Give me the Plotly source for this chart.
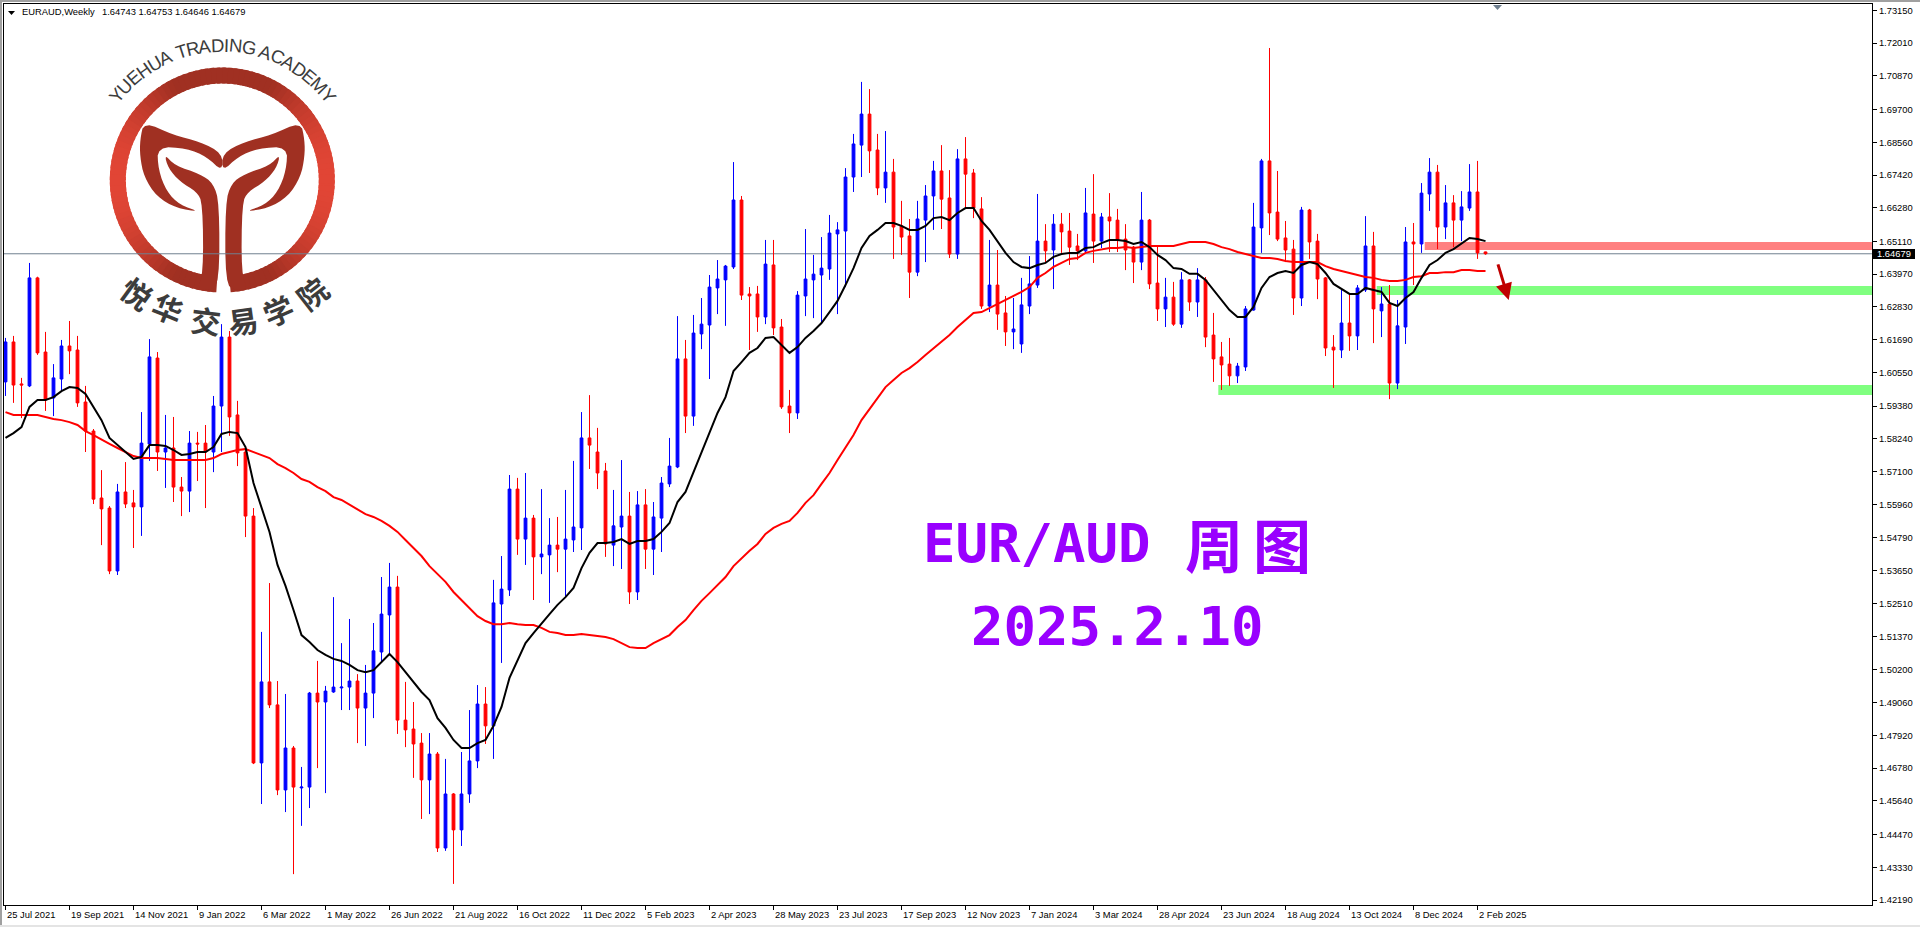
import math
import plotly.graph_objects as go

# Weekly EURAUD, one entry per bar
opens = [1.6022,1.6161,1.6015,1.6008,1.6384,1.6126,1.5966,1.6032,1.6147,1.6133,1.5952,1.5851,1.5618,1.5583,1.5364,1.5639,1.5601,1.5587,1.5806,1.6105,
1.5778,1.5792,1.5656,1.5642,1.5809,1.5809,1.5778,1.5938,1.6178,1.5907,1.5778,1.5555,1.4696,1.4978,1.4898,1.4602,1.4748,1.4609,1.4612,1.4939,
1.4908,1.4943,1.4957,1.4960,1.4981,1.4887,1.4939,1.5082,1.5211,1.5308,1.4845,1.4814,1.4765,1.4637,1.4727,1.4400,1.4588,1.4463,1.4588,1.4703,
1.4901,1.4825,1.5249,1.5298,1.5649,1.5475,1.5548,1.5413,1.5420,1.5454,1.5440,1.5472,1.5514,1.5827,1.5778,1.5712,1.5454,1.5517,1.5555,1.5291,
1.5594,1.5440,1.5548,1.5667,1.5726,1.6102,1.5903,1.6189,1.6220,1.6349,1.6377,1.6422,1.6655,1.6328,1.6328,1.6248,1.6429,1.6213,1.5938,1.5914,
1.6321,1.6377,1.6394,1.6415,1.6537,1.6547,1.6735,1.6846,1.6954,1.6829,1.6697,1.6752,1.6565,1.6530,1.6404,1.6585,1.6669,1.6756,1.6662,1.6467,
1.6798,1.6749,1.6624,1.6286,1.6359,1.6262,1.6196,1.6154,1.6286,1.6359,1.6512,1.6481,1.6571,1.6547,1.6495,1.6478,1.6606,1.6512,1.6596,1.6585,
1.6519,1.6491,1.6439,1.6585,1.6366,1.6276,1.6317,1.6223,1.6377,1.6300,1.6377,1.6185,1.6109,1.6084,1.6043,1.6074,1.6272,1.6558,1.6791,1.6613,
1.6523,1.6484,1.6314,1.6620,1.6512,1.6384,1.6143,1.6133,1.6227,1.6182,1.6342,1.6495,1.6269,1.6293,1.6018,1.6213,1.6509,1.6502,1.6676,1.6752,
1.6561,1.6645,1.6585,1.6627,1.6683,1.64743]
highs = [1.6175,1.6182,1.6036,1.6436,1.6388,1.6196,1.6084,1.6168,1.6234,1.6182,1.6008,1.5858,1.5715,1.5590,1.5667,1.5743,1.5646,1.5917,1.6171,1.6126,
1.5907,1.5900,1.5691,1.5851,1.5848,1.5872,1.5973,1.6223,1.6199,1.5956,1.5795,1.5583,1.5152,1.5322,1.4981,1.4936,1.4755,1.4682,1.4943,1.5051,
1.4964,1.5273,1.5113,1.5197,1.5005,1.5037,1.5183,1.5343,1.5392,1.5347,1.4978,1.4908,1.4800,1.4800,1.4734,1.4710,1.4591,1.4734,1.4880,1.4967,
1.4960,1.5333,1.5416,1.5698,1.5688,1.5705,1.5559,1.5649,1.5548,1.5552,1.5646,1.5747,1.5917,1.5976,1.5862,1.5740,1.5646,1.5750,1.5639,1.5642,
1.5649,1.5604,1.5691,1.5827,1.6251,1.6168,1.6255,1.6314,1.6394,1.6446,1.6429,1.6787,1.6669,1.6352,1.6356,1.6516,1.6516,1.6241,1.5994,1.6338,
1.6554,1.6464,1.6526,1.6603,1.6578,1.6766,1.6885,1.7066,1.7041,1.6885,1.6895,1.6798,1.6652,1.6589,1.6652,1.6707,1.6791,1.6846,1.6759,1.6832,
1.6874,1.6763,1.6665,1.6516,1.6481,1.6321,1.6314,1.6384,1.6460,1.6676,1.6571,1.6606,1.6610,1.6610,1.6537,1.6697,1.6745,1.6610,1.6679,1.6624,
1.6571,1.6495,1.6683,1.6589,1.6495,1.6384,1.6370,1.6404,1.6380,1.6418,1.6387,1.6262,1.6161,1.6175,1.6088,1.6286,1.6645,1.6798,1.7184,1.6756,
1.6582,1.6516,1.6631,1.6624,1.6537,1.6387,1.6185,1.6342,1.6328,1.6359,1.6599,1.6544,1.6352,1.6359,1.6307,1.6561,1.6575,1.6714,1.6801,1.6777,
1.6707,1.6672,1.6686,1.6780,1.6791,1.64753]
lows = [1.5973,1.5949,1.5896,1.6004,1.6116,1.5921,1.5903,1.5990,1.6049,1.5935,1.5778,1.5597,1.5454,1.5353,1.5350,1.5583,1.5444,1.5486,1.5747,1.5712,
1.5653,1.5604,1.5555,1.5569,1.5677,1.5583,1.5708,1.5778,1.5834,1.5729,1.5482,1.4692,1.4553,1.4887,1.4584,1.4525,1.4309,1.4477,1.4539,1.4678,
1.4591,1.4940,1.4880,1.4880,1.4765,1.4755,1.4852,1.5047,1.5075,1.4797,1.4751,1.4644,1.4501,1.4518,1.4386,1.4390,1.4275,1.4407,1.4557,1.4678,
1.4762,1.4710,1.5044,1.5277,1.5420,1.5385,1.5263,1.5353,1.5253,1.5360,1.5273,1.5430,1.5437,1.5719,1.5649,1.5413,1.5381,1.5371,1.5249,1.5263,
1.5371,1.5350,1.5430,1.5656,1.5722,1.5844,1.5869,1.6136,1.6032,1.6258,1.6217,1.6415,1.6307,1.6133,1.6196,1.6223,1.6185,1.5928,1.5844,1.5893,
1.6251,1.6244,1.6227,1.6377,1.6258,1.6352,1.6683,1.6735,1.6749,1.6672,1.6645,1.6450,1.6464,1.6314,1.6390,1.6439,1.6551,1.6554,1.6453,1.6450,
1.6627,1.6592,1.6276,1.6265,1.6203,1.6147,1.6136,1.6123,1.6258,1.6349,1.6436,1.6345,1.6471,1.6429,1.6446,1.6471,1.6436,1.6488,1.6474,1.6474,
1.6411,1.6366,1.6411,1.6345,1.6234,1.6213,1.6217,1.6210,1.6269,1.6248,1.6143,1.6022,1.5994,1.6008,1.6018,1.6060,1.6270,1.6471,1.6533,1.6512,
1.6439,1.6255,1.6286,1.6450,1.6310,1.6112,1.6001,1.6105,1.6130,1.6133,1.6335,1.6157,1.6178,1.5962,1.5997,1.6154,1.6359,1.6471,1.6617,1.6484,
1.6519,1.6491,1.6512,1.6617,1.6450,1.64646]
closes = [1.6161,1.6011,1.6011,1.6384,1.6123,1.5959,1.6036,1.6147,1.6130,1.5949,1.5851,1.5614,1.5580,1.5364,1.5639,1.5597,1.5587,1.5809,1.6109,1.5778,
1.5792,1.5656,1.5642,1.5809,1.5806,1.5778,1.5938,1.6178,1.5900,1.5775,1.5555,1.4696,1.4978,1.4898,1.4602,1.4748,1.4612,1.4612,1.4939,1.4908,
1.4946,1.4960,1.4960,1.4981,1.4887,1.4939,1.5086,1.5214,1.5308,1.4845,1.4811,1.4762,1.4637,1.4727,1.4400,1.4588,1.4463,1.4588,1.4703,1.4901,
1.4825,1.5253,1.5301,1.5649,1.5475,1.5548,1.5413,1.5423,1.5454,1.5440,1.5475,1.5517,1.5827,1.5802,1.5705,1.5458,1.5521,1.5555,1.5291,1.5594,
1.5440,1.5552,1.5670,1.5729,1.6102,1.5903,1.6192,1.6223,1.6352,1.6380,1.6425,1.6655,1.6324,1.6321,1.6248,1.6432,1.6210,1.5935,1.5914,1.6324,
1.6380,1.6397,1.6418,1.6540,1.6551,1.6735,1.6850,1.6954,1.6826,1.6697,1.6752,1.6561,1.6526,1.6404,1.6589,1.6669,1.6756,1.6658,1.6467,1.6798,
1.6745,1.6627,1.6286,1.6359,1.6258,1.6196,1.6206,1.6290,1.6363,1.6512,1.6478,1.6571,1.6544,1.6491,1.6478,1.6610,1.6512,1.6596,1.6582,1.6516,
1.6481,1.6439,1.6585,1.6363,1.6276,1.6317,1.6223,1.6377,1.6300,1.6377,1.6178,1.6102,1.6081,1.6043,1.6077,1.6276,1.6561,1.6791,1.6610,1.6519,
1.6481,1.6314,1.6620,1.6509,1.6380,1.6140,1.6133,1.6227,1.6182,1.6349,1.6495,1.6276,1.6293,1.6018,1.6217,1.6509,1.6502,1.6679,1.6752,1.6561,
1.6645,1.6585,1.6631,1.6683,1.6471,1.64679]

ma_fast = [1.5827,1.5844,1.5865,1.5935,1.5959,1.5959,1.5969,1.5990,1.6004,1.6001,1.5980,1.5935,1.5889,1.5827,1.5802,1.5778,1.5754,1.5761,1.5802,1.5802,
1.5799,1.5785,1.5768,1.5771,1.5778,1.5778,1.5795,1.5841,1.5848,1.5844,1.5795,1.5670,1.5583,1.5500,1.5385,1.5312,1.5228,1.5141,1.5117,1.5089,
1.5072,1.5058,1.5051,1.5037,1.5019,1.5012,1.5019,1.5047,1.5075,1.5047,1.5012,1.4981,1.4943,1.4915,1.4852,1.4818,1.4776,1.4748,1.4748,1.4765,
1.4776,1.4825,1.4891,1.4992,1.5054,1.5113,1.5148,1.5183,1.5214,1.5246,1.5273,1.5305,1.5374,1.5427,1.5461,1.5461,1.5465,1.5475,1.5458,1.5468,
1.5468,1.5475,1.5500,1.5531,1.5604,1.5639,1.5708,1.5775,1.5848,1.5914,1.5969,1.6060,1.6091,1.6123,1.6140,1.6175,1.6178,1.6150,1.6123,1.6143,
1.6175,1.6199,1.6227,1.6265,1.6304,1.6359,1.6418,1.6488,1.6530,1.6551,1.6575,1.6575,1.6565,1.6551,1.6551,1.6565,1.6592,1.6596,1.6585,1.6610,
1.6627,1.6627,1.6582,1.6551,1.6509,1.6471,1.6439,1.6422,1.6418,1.6429,1.6436,1.6457,1.6467,1.6471,1.6471,1.6488,1.6491,1.6505,1.6516,1.6516,
1.6512,1.6502,1.6509,1.6491,1.6464,1.6446,1.6418,1.6415,1.6398,1.6398,1.6377,1.6342,1.6307,1.6272,1.6248,1.6248,1.6283,1.6349,1.6387,1.6401,
1.6408,1.6401,1.6429,1.6439,1.6432,1.6401,1.6363,1.6345,1.6328,1.6328,1.6349,1.6342,1.6335,1.6297,1.6286,1.6314,1.6335,1.6384,1.6429,1.6446,
1.6471,1.6484,1.6505,1.6523,1.6519,1.6512]
ma_slow = [1.5917,1.5907,1.5907,1.5907,1.5907,1.5900,1.5893,1.5889,1.5882,1.5872,1.5851,1.5837,1.5820,1.5806,1.5792,1.5778,1.5764,1.5757,1.5757,1.5757,
1.5754,1.5750,1.5750,1.5750,1.5750,1.5750,1.5757,1.5771,1.5778,1.5785,1.5788,1.5778,1.5768,1.5757,1.5736,1.5722,1.5705,1.5684,1.5674,1.5656,
1.5642,1.5621,1.5611,1.5594,1.5576,1.5562,1.5552,1.5538,1.5521,1.5500,1.5472,1.5444,1.5416,1.5381,1.5353,1.5326,1.5291,1.5263,1.5235,1.5207,
1.5190,1.5179,1.5179,1.5183,1.5179,1.5176,1.5176,1.5166,1.5152,1.5148,1.5141,1.5141,1.5145,1.5141,1.5138,1.5134,1.5127,1.5113,1.5099,1.5096,
1.5096,1.5113,1.5127,1.5141,1.5169,1.5193,1.5228,1.5260,1.5287,1.5315,1.5343,1.5381,1.5409,1.5434,1.5458,1.5493,1.5514,1.5528,1.5538,1.5566,
1.5601,1.5628,1.5667,1.5705,1.5750,1.5792,1.5837,1.5889,1.5928,1.5966,1.6004,1.6029,1.6053,1.6070,1.6091,1.6116,1.6140,1.6161,1.6185,1.6213,
1.6237,1.6262,1.6265,1.6279,1.6293,1.6307,1.6321,1.6335,1.6352,1.6384,1.6401,1.6422,1.6436,1.6450,1.6453,1.6471,1.6478,1.6484,1.6488,1.6488,
1.6491,1.6488,1.6491,1.6495,1.6495,1.6495,1.6495,1.6502,1.6509,1.6509,1.6509,1.6502,1.6491,1.6484,1.6474,1.6467,1.6460,1.6453,1.6453,1.6450,
1.6443,1.6439,1.6439,1.6439,1.6439,1.6425,1.6415,1.6408,1.6401,1.6394,1.6387,1.6384,1.6377,1.6373,1.6373,1.6377,1.6387,1.6390,1.6401,1.6401,
1.6404,1.6404,1.6411,1.6411,1.6408,1.6408]

price_ticks = [1.73150,1.72010,1.70870,1.69700,1.68560,1.67420,1.66280,1.65110,1.63970,1.62830,1.61690,1.60550,1.59380,1.58240,
1.57100,1.55960,1.54790,1.53650,1.52510,1.51370,1.50200,1.49060,1.47920,1.46780,1.45640,1.44470,1.43330,1.42190]
date_labels = ["25 Jul 2021","19 Sep 2021","14 Nov 2021","9 Jan 2022","6 Mar 2022","1 May 2022","26 Jun 2022","21 Aug 2022",
"16 Oct 2022","11 Dec 2022","5 Feb 2023","2 Apr 2023","28 May 2023","23 Jul 2023","17 Sep 2023","12 Nov 2023",
"7 Jan 2024","3 Mar 2024","28 Apr 2024","23 Jun 2024","18 Aug 2024","13 Oct 2024","8 Dec 2024","2 Feb 2025"]
last_price = 1.64679

# support / resistance zones: start bar, top price, bottom price
red_zone = (177.4, 1.6509, 1.6481)
green_zone_mid = (171.4, 1.6356, 1.6324)
green_zone_low = (151.6, 1.6011, 1.5976)

bars = list(range(len(closes)))
date_bars = [b * 8 for b in range(len(date_labels))]

# pixel box of the plot inside the 1920x927 page
L, T, R, B = 4, 4, 1872, 905
SMALL_FONT = "Liberation Sans"
SMALL_SIZE = 9.4


def px(x):
    return (x - L) / (R - L)


def py(y):
    return 1 - (y - T) / (B - T)


fig = go.Figure()
fig.add_trace(go.Candlestick(
    x=bars, open=opens, high=highs, low=lows, close=closes,
    increasing=dict(line=dict(color="#0000ff", width=1), fillcolor="#0000ff"),
    decreasing=dict(line=dict(color="#ff0000", width=1), fillcolor="#ff0000"),
    whiskerwidth=0, hoverinfo="skip", showlegend=False,
))
fig.add_trace(go.Scatter(x=bars, y=ma_slow, mode="lines", line=dict(color="#ff0000", width=2), hoverinfo="skip", showlegend=False))
fig.add_trace(go.Scatter(x=bars, y=ma_fast, mode="lines", line=dict(color="#000000", width=2), hoverinfo="skip", showlegend=False))

shapes = []
annotations = []


def paper_shape(path, fill=None, line=None, width=0, layer="below"):
    shapes.append(dict(type="path", path=path, xref="paper", yref="paper", layer=layer,
                       fillcolor=fill or "rgba(0,0,0,0)",
                       line=dict(color=line or "rgba(0,0,0,0)", width=width)))


def poly(points):
    return "M" + " L".join(f"{px(a):.5f},{py(b):.5f}" for a, b in points) + " Z"


def rect(x0, y0, x1, y1, fill, layer="below"):
    paper_shape(poly([(x0, y0), (x1, y0), (x1, y1), (x0, y1)]), fill=fill, layer=layer)


def rounded(points, rounds=2):
    # corner cutting so the logo outlines read as curves
    for _ in range(rounds):
        out = []
        for n, (a, b) in enumerate(points):
            c, d = points[(n + 1) % len(points)]
            out.append((0.75 * a + 0.25 * c, 0.75 * b + 0.25 * d))
            out.append((0.25 * a + 0.75 * c, 0.25 * b + 0.75 * d))
        points = out
    return points


# window frame
rect(0, 0, 1920, 2, "#a0a0a0", "above")
rect(0, 0, 2, 927, "#a0a0a0", "above")
rect(0, 925, 1920, 927, "#e4e4e4", "above")

# last price line, under the logo
shapes.append(dict(type="line", xref="x", yref="y", x0=-0.2, x1=233.3, y0=last_price, y1=last_price,
                   layer="below", line=dict(color="#708090", width=1)))

# zones
for (start, top, bottom), col in [(red_zone, "#ff8080"), (green_zone_mid, "#80ff80"), (green_zone_low, "#80ff80")]:
    shapes.append(dict(type="rect", xref="x", yref="y", x0=start, x1=233.3, y0=bottom, y1=top,
                       layer="below", fillcolor=col, line=dict(width=0)))

# logo: ring with a left/right brightening, drawn as short overlapping arcs
cx, cy, ring_r = 222.3, 180, 104.5
steps = 120
for k in range(steps):
    a0 = 2 * math.pi * k / steps
    a1 = 2 * math.pi * (k + 1.6) / steps
    mid = a0 + math.pi / steps
    # leave the slit at the bottom of the ring open
    if a0 < math.pi / 2 + 0.03 and a1 > math.pi / 2 - 0.03:
        continue
    t = max(0, (abs(math.cos(mid)) - 0.45) / 0.55)
    col = f"rgb({int(160 + 66 * t)},{int(48 + 22 * t)},{int(34 + 20 * t)})"
    pts = [(cx + ring_r * math.cos(a0 + (a1 - a0) * j / 3), cy + ring_r * math.sin(a0 + (a1 - a0) * j / 3)) for j in range(4)]
    paper_shape("M" + " L".join(f"{px(a):.5f},{py(b):.5f}" for a, b in pts), line=col, width=16)

leaf = [(432,365),(520,405),(600,425),(667,460),(667,515),(620,470),(560,445),(472,440),(475,510),(500,575),(540,615),(600,635),
        (530,625),(470,590),(432,530),(420,470),(420,420)]
stem = [(493,462),(525,497),(600,522),(640,550),(658,610),(658,850),(628,872),(590,866),(610,822),(608,610),(590,575),(540,545),(505,505)]
for shape_pts in (leaf, stem):
    smooth = rounded(shape_pts, 2)
    paper_shape(poly([(a / 3, b / 3) for a, b in smooth]), fill="#a03022")
    paper_shape(poly([((1334 - a) / 3, b / 3) for a, b in smooth]), fill="#a03022")

# logo lettering along the arcs
ring_text = "YUEHUA TRADING ACADEMY"
widths = dict(Y=.667, U=.722, E=.667, H=.722, A=.667, T=.611, R=.722, D=.722, I=.278, N=.722, G=.778, C=.722, M=.833)
widths[" "] = .278
total = sum(widths[c] for c in ring_text)
arc_deg = 108.0
run = 0.0
for c in ring_text:
    w = widths[c]
    ang = -arc_deg / 2 + arc_deg * (run + w / 2) / total
    run += w
    rad = math.radians(ang)
    annotations.append(dict(text=c, xref="paper", yref="paper", x=px(cx + 135 * math.sin(rad)), y=py(cy - 135 * math.cos(rad)),
                            showarrow=False, textangle=ang, xanchor="center", yanchor="middle",
                            font=dict(family="Liberation Sans", size=18.5, color="#3c3c3c")))

cjk_chars = ["悦", "华", "交", "易", "学", "院"]
cjk_pos = [(412, 880), (505, 925), (617, 960), (730, 960), (833, 930), (935, 880)]
cjk_ang = [36, 22, 7, -8, -23, -38]
for c, (a, b), ang in zip(cjk_chars, cjk_pos, cjk_ang):
    annotations.append(dict(text=c, xref="paper", yref="paper", x=px(a / 3), y=py(b / 3), showarrow=False, textangle=ang,
                            xanchor="center", yanchor="middle",
                            font=dict(family="Noto Sans CJK SC", size=30, color="#3c3c3c", weight=700)))

# header
paper_shape(poly([(8, 11), (15, 11), (11.5, 15)]), fill="#000000", layer="above")
annotations.append(dict(text="EURAUD,Weekly", xref="paper", yref="paper", x=px(20), y=py(12), showarrow=False,
                        xanchor="left", yanchor="middle", font=dict(family=SMALL_FONT, size=SMALL_SIZE, color="#000000")))
annotations.append(dict(text="1.64743 1.64753 1.64646 1.64679", xref="paper", yref="paper", x=px(100), y=py(12), showarrow=False,
                        xanchor="left", yanchor="middle", font=dict(family=SMALL_FONT, size=SMALL_SIZE, color="#000000")))
paper_shape(poly([(1493, 5), (1502, 5), (1497.5, 10)]), fill="#708090", layer="above")

# date labels start at their tick
for b, label in zip(date_bars, date_labels):
    annotations.append(dict(text=label, xref="x", y=py(914.5), yref="paper", x=b, xshift=-1, showarrow=False,
                            xanchor="left", yanchor="middle",
                            font=dict(family=SMALL_FONT, size=SMALL_SIZE, color="#000000")))

# current price box
rect(1873, 249, 1915, 259, "#000000", "above")
annotations.append(dict(text="1.64679", xref="paper", yref="y", x=px(1894), y=last_price, showarrow=False,
                        xanchor="center", yanchor="middle",
                        font=dict(family=SMALL_FONT, size=SMALL_SIZE, color="#ffffff")))

# arrow
annotations.append(dict(x=187.9, y=1.6307, ax=186.5, ay=1.6436, xref="x", yref="y", axref="x", ayref="y", text="", showarrow=True,
                        arrowhead=2, arrowsize=1.1, arrowwidth=3, arrowcolor="#c00000", standoff=0))

# big labels
purple = "#9900ff"
mono = dict(family="DejaVu Sans Mono", size=54, color=purple, weight=700)
annotations.append(dict(text="EUR/AUD", xref="paper", yref="paper", x=px(1037), y=py(543), showarrow=False, xanchor="center", yanchor="middle", font=mono))
annotations.append(dict(text="2025.2.10", xref="paper", yref="paper", x=px(1117), y=py(626), showarrow=False, xanchor="center", yanchor="middle", font=mono))
annotations.append(dict(text="周", xref="paper", yref="paper", x=px(1214), y=py(543), showarrow=False, xanchor="center", yanchor="middle",
                        font=dict(family="Noto Sans CJK SC", size=58, color=purple, weight=700)))
annotations.append(dict(text="图", xref="paper", yref="paper", x=px(1282), y=py(543), showarrow=False, xanchor="center", yanchor="middle",
                        font=dict(family="Noto Sans CJK SC", size=58, color=purple, weight=700)))

fig.update_layout(
    width=1920, height=927, autosize=False,
    margin=dict(l=L, r=1920 - R, t=T, b=927 - B, pad=0),
    paper_bgcolor="#ffffff", plot_bgcolor="#ffffff",
    showlegend=False, boxgap=0.5, hovermode=False,
    shapes=shapes, annotations=annotations,
    xaxis=dict(range=[-0.1875, 233.31], rangeslider=dict(visible=False), showgrid=False, zeroline=False,
               tickmode="array", tickvals=date_bars, showticklabels=False, ticks="outside", ticklen=4, tickcolor="#000000",
               showline=True, linecolor="#000000", linewidth=1, mirror=True),
    yaxis=dict(range=[1.42016, 1.73371], side="right", showgrid=False, zeroline=False,
               tickmode="array", tickvals=price_ticks, ticktext=[f"{v:.5f}" for v in price_ticks],
               ticks="outside", ticklen=4, tickcolor="#000000",
               tickfont=dict(family=SMALL_FONT, size=SMALL_SIZE, color="#000000"),
               showline=True, linecolor="#000000", linewidth=1, mirror=True),
)

fig.write_html("out.html", config=dict(displayModeBar=False),
               post_script="document.body.style.margin='0';document.body.style.overflow='hidden';")
